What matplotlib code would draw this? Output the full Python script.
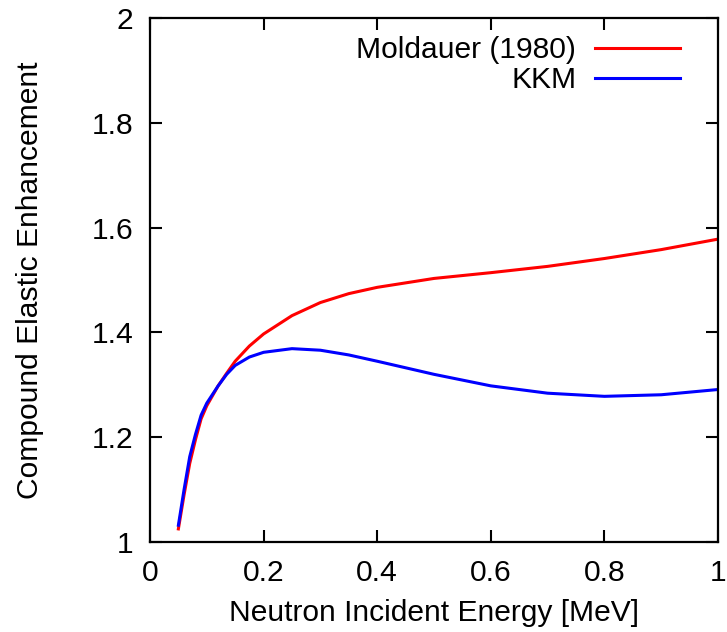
import numpy as np
import matplotlib
matplotlib.use("Agg")
import matplotlib.pyplot as plt
from matplotlib.ticker import FormatStrFormatter

plt.rcParams['font.family'] = ['Liberation Sans', 'DejaVu Sans']

# energies [MeV] and enhancement factors
energy = [0.05, 0.06, 0.07, 0.08, 0.09, 0.1, 0.12, 0.135, 0.15, 0.175, 0.2, 0.25,
          0.3, 0.35, 0.4, 0.5, 0.6, 0.7, 0.8, 0.9, 1.0]
moldauer = [1.025, 1.09, 1.15, 1.195, 1.235, 1.26, 1.298, 1.322, 1.345, 1.374, 1.397, 1.432,
            1.457, 1.474, 1.486, 1.503, 1.514, 1.526, 1.541, 1.558, 1.578]
kkm = [1.032, 1.10, 1.163, 1.205, 1.242, 1.265, 1.298, 1.320, 1.337, 1.353, 1.362, 1.369,
       1.366, 1.357, 1.345, 1.320, 1.298, 1.284, 1.278, 1.281, 1.291]

xticks = [0, 0.2, 0.4, 0.6, 0.8, 1]
yticks = [1, 1.2, 1.4, 1.6, 1.8, 2]

fs = 21.6

fig = plt.figure(figsize=(7.27, 6.32), dpi=100)
ax = fig.add_axes([0.2063, 0.1424, 0.7813, 0.8291])

ax.plot(energy, moldauer, color='#ff0000', lw=2.2, label='Moldauer (1980)')
ax.plot(energy, kkm, color='#0000ff', lw=2.2, label='KKM')

ax.set_xlim(0, 1)
ax.set_ylim(1, 2)
ax.set_xticks(xticks)
ax.set_yticks(yticks)
ax.xaxis.set_major_formatter(FormatStrFormatter('%g'))
ax.yaxis.set_major_formatter(FormatStrFormatter('%g'))
ax.tick_params(direction='in', length=8.5, width=1.5, labelsize=fs,
               top=True, right=True)
ax.tick_params(axis='x', pad=12)
ax.tick_params(axis='y', pad=12)
for s in ax.spines.values():
    s.set_linewidth(1.6)

ax.set_xlabel('Neutron Incident Energy [MeV]', fontsize=fs, labelpad=9)
ax.set_ylabel('Compound Elastic Enhancement', fontsize=fs, labelpad=34)

ax.legend(loc='upper right', frameon=False, markerfirst=False, fontsize=fs,
          handlelength=2.83, handletextpad=0.63, labelspacing=0.07,
          borderaxespad=0.2, bbox_to_anchor=(0.965, 1.0))

fig.savefig('out.png', dpi=100)
